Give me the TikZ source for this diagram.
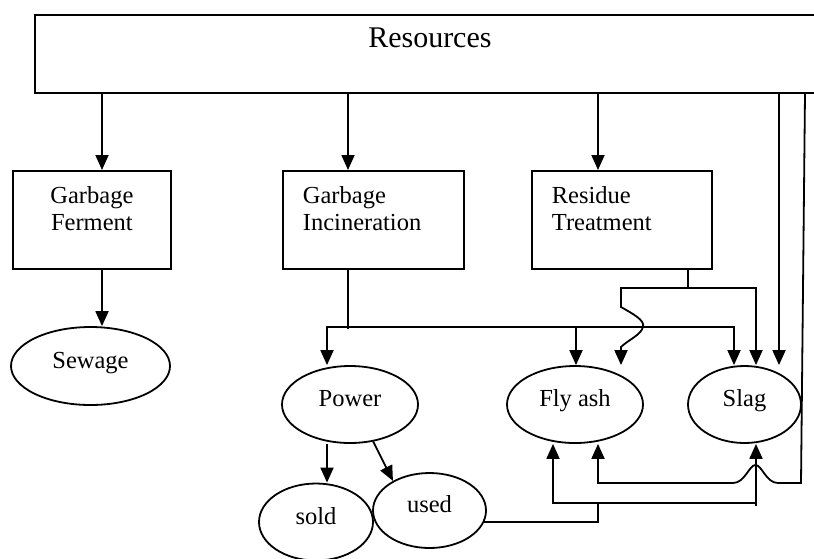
\documentclass[tikz,border=0pt]{standalone}
\usepackage{fontspec}
\setmainfont{Liberation Serif}
\usetikzlibrary{shapes.geometric,arrows.meta}

\begin{document}
\begin{tikzpicture}[x=1pt,y=-1pt,
  line width=1.8pt,
  every node/.style={font=\fontsize{24.5}{27}\selectfont},
  procbox/.style={draw, rectangle, anchor=north west, inner ysep=16pt},
  blob/.style={draw, ellipse, inner sep=0pt, text height=17pt, text depth=13pt},
  arr/.style={-{Triangle[width=13pt,length=15pt]}},
  arrboth/.style={{Triangle[width=13pt,length=15pt]}-{Triangle[width=13pt,length=15pt]}},
]
\useasboundingbox (0,0) rectangle (814,558);
\clip (0,0) rectangle (814,558);
\fill[white] (0,0) rectangle (814,558);

% top bar, open on the right
\node[draw, rectangle, anchor=north west, inner xsep=0pt, inner ysep=12.5pt] (res) at (34,14)
  {\parbox[c][53pt][t]{790pt}{\centering\fontsize{30}{33}\selectfont Resources}};

% process boxes
\node[procbox, inner xsep=10pt] (ferm) at (12,170)
  {\parbox[c][66pt][t]{138pt}{\centering Garbage\\Ferment}};
\node[procbox, inner xsep=20pt] (inc) at (282,170)
  {\parbox[c][66pt][t]{141pt}{\raggedright Garbage\\Incineration}};
\node[procbox, inner xsep=20pt] (resid) at (531,170)
  {\parbox[c][66pt][t]{140pt}{\raggedright Residue\\Treatment}};

% products
\node[blob, minimum width=159pt, minimum height=78pt] (sew) at (90.5,366) {Sewage};
\node[blob, minimum width=136pt, minimum height=77pt] (power) at (350,404.5) {Power};
\node[blob, minimum width=136pt, minimum height=77pt] (fly) at (575,404.5) {Fly ash};
\node[blob, minimum width=113pt, minimum height=77pt] (slag) at (744.5,404.5) {Slag};
\node[blob, minimum width=114pt, minimum height=77pt] (sold) at (316,522) {sold};
\node[blob, minimum width=113pt, minimum height=75pt] (used) at (429.5,510.5) {used};

% column and row positions of the connectors
\coordinate (xF) at (102,0);
\coordinate (xI) at (348,0);
\coordinate (xR) at (598,0);
\coordinate (xS3) at (779,0);
\coordinate (xE) at (805,0);
\coordinate (xP) at (327,0);
\coordinate (xF1) at (576,0);
\coordinate (xS1) at (734,0);
\coordinate (xW) at (621,0);
\coordinate (xR2) at (688,0);
\coordinate (xSl) at (756,0);
\coordinate (xU) at (553,0);
\coordinate (busA) at (0,327);
\coordinate (busB) at (0,288);
\coordinate (busC) at (0,483);
\coordinate (busD) at (0,503);
\coordinate (edgeLow) at (801,483);

% from the resources bar
\draw[arr] (res.south -| xF) -- (xF |- ferm.north);
\draw[arr] (res.south -| xI) -- (xI |- inc.north);
\draw[arr] (res.south -| xR) -- (xR |- resid.north);
\draw[arr] (res.south -| xS3) -- (xS3 |- slag.north);

% fermentation
\draw[arr] (ferm.south -| xF) -- (xF |- sew.north);

% incineration outputs
\draw (inc.south -| xI) -- (348,329);
\draw[arrboth] (xP |- power.north) -- (xP |- busA) -- (xS1 |- busA) -- (xS1 |- slag.north);
\draw[arr] (xF1 |- busA) -- (xF1 |- fly.north);

% residue treatment outputs, hopping over the incineration line
\draw (resid.south -| xR2) -- (xR2 |- busB);
\draw[arrboth] (xW |- fly.north) -- (621,347)
  .. controls (628,340) and (641,335) .. (643,327)
  .. controls (645,320) and (633,314) .. (621,307)
  -- (xW |- busB) -- (xSl |- busB) -- (xSl |- slag.north);

% return loop along the right edge
\draw[arr] (res.south -| xE) -- (edgeLow) -- (778,483)
  .. controls (766,483) and (762,465) .. (755.5,465)
  .. controls (749,465) and (745,483) .. (733,483)
  -- (xR |- busC) -- (xR |- fly.south);

% power use
\draw[arr] (xP |- power.south) -- (xP |- sold.north);
\draw[arr] (power.-58) -- (used.141);
\draw (used.-12) -| (xR |- busD);
\draw[arrboth] (xU |- fly.south) -- (xU |- busD) -- (xSl |- busD) -- (xSl |- slag.south);
\draw (xSl |- busD) -- (756,506);
\end{tikzpicture}
\end{document}
